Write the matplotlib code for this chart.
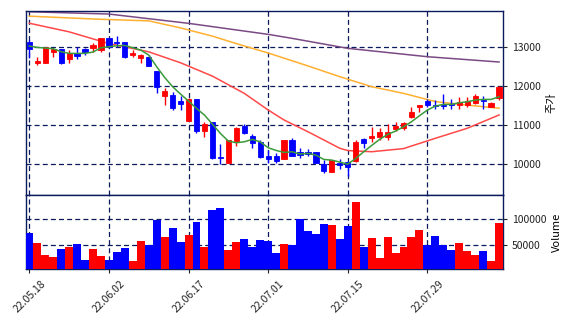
import numpy as np
import matplotlib
matplotlib.use("Agg")
import matplotlib.pyplot as plt

plt.rcParams['font.family'] = ['Noto Sans CJK KR', 'DejaVu Sans']

tick_labels = ['22.05.18', '22.06.02', '22.06.17', '22.07.01', '22.07.15', '22.07.29']
tick_pos = [0, 10, 20, 30, 40, 50]

opens = [13110, 12574, 12574, 12872, 12940, 12677, 12838, 12940, 12974, 12915,
         13213, 13119, 13119, 12779, 12719, 12736, 12379, 11749, 11766, 11613,
         11111, 11664, 10855, 11068, 10191, 10038, 10591, 10974, 10719, 10566,
         10208, 10208, 10140, 10617, 10302, 10302, 10302, 9996, 9809, 10021,
         10047, 10081, 10634, 10660, 10685, 10702, 10906, 10915, 11213, 11451,
         11613, 11502, 11511, 11528, 11502, 11502, 11553, 11638, 11468, 11698]
highs = [13170, 12745, 13000, 12974, 12950, 12915, 13000, 12974, 13085, 13230,
         13230, 13272, 13130, 12915, 12813, 12787, 12379, 11953, 11850, 11749,
         11680, 11664, 11085, 11085, 10515, 10630, 10957, 11030, 10760, 10610,
         10362, 10294, 10617, 10660, 10404, 10387, 10302, 10106, 10106, 10132,
         10089, 10617, 10676, 10957, 10915, 11017, 11077, 11085, 11451, 11502,
         11655, 11638, 11783, 11655, 11710, 11710, 11783, 11749, 11596, 12004]
lows = [12700, 12523, 12574, 12728, 12560, 12574, 12677, 12787, 12872, 12872,
        12960, 13000, 12700, 12728, 12574, 12500, 11809, 11502, 11383, 11383,
        11100, 10810, 10702, 10140, 10004, 10038, 10464, 10760, 10404, 10149,
        10038, 10030, 10140, 10200, 10149, 10200, 10038, 9783, 9809, 9874,
        9706, 10060, 10421, 10574, 10617, 10617, 10838, 10872, 11170, 11340,
        11468, 11400, 11400, 11400, 11400, 11451, 11528, 11400, 11451, 11640]
closes = [12932, 12634, 12991, 12932, 12574, 12847, 12770, 12864, 13034, 13213,
          12983, 13094, 12728, 12847, 12787, 12515, 11962, 11868, 11443, 11545,
          11664, 10855, 11017, 10149, 10157, 10617, 10932, 10804, 10549, 10191,
          10132, 10081, 10617, 10208, 10234, 10251, 10038, 9834, 10106, 9970,
          9936, 10574, 10549, 10728, 10813, 10813, 10983, 11060, 11323, 11502,
          11502, 11485, 11485, 11502, 11596, 11613, 11749, 11613, 11553, 11979]
volumes = [74230, 55000, 31350, 27500, 42900, 46700, 52500, 21700, 42900, 29400,
           21700, 37100, 44800, 19800, 58300, 50000, 99200, 66000, 83300, 56300,
           69800, 94800, 46700, 117900, 121700, 41000, 56300, 62100, 46700, 60200,
           58300, 35200, 52500, 50600, 100000, 77500, 71700, 91000, 89000, 62100,
           87100, 133300, 46700, 64000, 25600, 66000, 35200, 46700, 66000, 79400,
           50600, 67900, 50600, 41000, 54400, 39000, 31350, 39000, 19800, 92900]

ma5 = [13017, 12983, 12966, 12949, 12872, 12830, 12830, 12830, 12864, 12974,
       13000, 13025, 13034, 12974, 12915, 12787, 12489, 12217, 11979, 11791,
       11613, 11426, 11255, 11026, 10787, 10591, 10549, 10574, 10634, 10574,
       10421, 10353, 10302, 10319, 10260, 10277, 10234, 10123, 10106, 10055,
       10004, 10149, 10319, 10481, 10634, 10762, 10847, 10957, 11085, 11238,
       11383, 11485, 11528, 11528, 11570, 11596, 11638, 11655, 11655, 11723]

ma20_x = [0, 5, 10, 15, 19, 23, 27, 30, 32, 35, 39, 40, 43, 47, 51, 55, 59]
ma20 = [13600, 13380, 13080, 12870, 12590, 12250, 11810, 11385, 11130, 10830,
        10408, 10350, 10320, 10400, 10663, 10918, 11258]

ma60_x = [0, 9, 15, 19, 23, 26, 30, 35, 39, 43, 47, 51, 55, 59]
ma60 = [13780, 13700, 13660, 13480, 13270, 13080, 12840, 12510, 12235, 11980,
        11810, 11600, 11510, 11430]

ma120_x = [0, 10, 20, 30, 33, 40, 50, 59]
ma120 = [13893, 13834, 13597, 13316, 13214, 12959, 12745, 12610]

UP = '#ff0000'
DOWN = '#0000ff'
NAVY = '#0b1a5c'

fig = plt.figure(figsize=(5.74, 3.26), dpi=100)
ax = fig.add_axes([0.0448, 0.402, 0.8310, 0.565])
axv = fig.add_axes([0.0448, 0.174, 0.8310, 0.228], sharex=ax)

x = np.arange(len(opens))
o = np.array(opens); c = np.array(closes)
h = np.array(highs); l = np.array(lows)
cols = [UP if cc >= oo else DOWN for oo, cc in zip(o, c)]

for a in (ax, axv):
    a.grid(True, linestyle=(0, (4, 2.5)), color=NAVY, linewidth=0.9)
    a.set_axisbelow(True)
    for s in a.spines.values():
        s.set_color(NAVY)
        s.set_linewidth(1.0)
    a.yaxis.tick_right()
    a.yaxis.set_label_position('right')
    a.tick_params(axis='both', labelsize=7.5, colors='#222222', length=3)

ax.vlines(x, l, h, colors=cols, linewidth=1.0, zorder=3)
bottoms = np.minimum(o, c)
heights = np.maximum(np.abs(c - o), 15)
ax.bar(x, heights, bottom=bottoms, width=0.65, color=cols, edgecolor=cols,
       linewidth=0.6, zorder=4)

ax.plot(x, ma5, color='#3a9a3a', linewidth=1.1, zorder=5)
ax.plot(ma20_x, ma20, color='#ff4848', linewidth=1.1, zorder=2)
ax.plot(ma60_x, ma60, color='#ffb030', linewidth=1.1, zorder=2)
ax.plot(ma120_x, ma120, color='#7b4a85', linewidth=1.1, zorder=2)

ax.set_ylim(9217, 13918)
ax.set_yticks([10000, 11000, 12000, 13000])
ax.set_ylabel('주가', fontsize=8)
ax.tick_params(axis='x', labelbottom=False)

axv.bar(x, volumes, width=1.0, color=cols, zorder=3)
axv.set_ylim(3850, 146700)
axv.set_yticks([50000, 100000])
axv.set_ylabel('Volume', fontsize=8)

axv.set_xlim(-0.45, 59.46)
axv.set_xticks(tick_pos)
axv.set_xticklabels(tick_labels, rotation=45, fontsize=7.5)

fig.savefig('out.png', dpi=100)
